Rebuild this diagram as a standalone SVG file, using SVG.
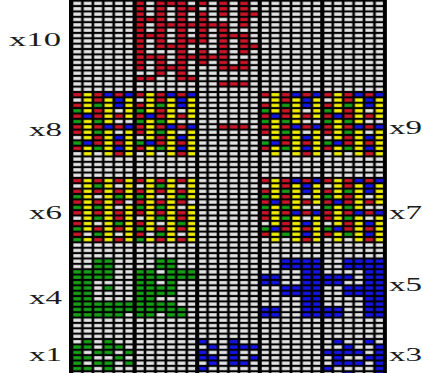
<svg xmlns="http://www.w3.org/2000/svg" width="423" height="373" viewBox="0 0 423 373">
<style>
.lbl{font-family:"Liberation Serif","Times New Roman",serif;font-size:19px;fill:#1a1a1a}
.r{fill:#cc1528}.y{fill:#f2f000}.g{fill:#16a016}.b{fill:#1414e8}
</style>
<defs>
<pattern id="lines" x="72" y="0.7" width="10.43" height="5.37" patternUnits="userSpaceOnUse">
<rect x="0" y="0" width="1.3" height="5.37" fill="#000"/>
<rect x="9.13" y="0" width="1.3" height="5.37" fill="#000"/>
<rect x="0" y="0" width="10.43" height="1.05" fill="#000"/>
<rect x="0" y="4.32" width="10.43" height="1.05" fill="#000"/>
</pattern>
<g id="t8">
<rect class="y" x="1" y="0" width="1" height="4"/><rect class="y" x="1" y="5" width="1" height="4"/><rect class="y" x="1" y="10" width="1" height="2"/>
<rect class="y" x="3" y="1" width="1" height="5"/><rect class="y" x="3" y="7" width="1" height="5"/>
<rect class="y" x="5" y="1" width="1" height="4"/><rect class="y" x="5" y="7" width="1" height="5"/>
<rect class="b" x="1" y="4" width="1" height="1"/><rect class="b" x="1" y="9" width="1" height="1"/><rect class="b" x="3" y="0" width="1" height="1"/><rect class="b" x="3" y="6" width="1" height="1"/><rect class="b" x="5" y="0" width="1" height="1"/><rect class="b" x="5" y="6" width="1" height="1"/><rect class="b" x="4" y="1" width="1" height="2"/><rect class="b" x="4" y="8" width="1" height="1"/><rect class="b" x="4" y="10" width="1" height="1"/>
<rect class="r" x="0" y="0" width="1" height="1"/><rect class="r" x="0" y="2" width="1" height="1"/><rect class="r" x="0" y="4" width="1" height="1"/><rect class="r" x="0" y="6" width="1" height="2"/><rect class="r" x="0" y="10" width="1" height="1"/>
<rect class="r" x="2" y="0" width="1" height="2"/><rect class="r" x="2" y="3" width="1" height="2"/><rect class="r" x="2" y="6" width="1" height="1"/><rect class="r" x="2" y="8" width="1" height="2"/>
<rect class="r" x="4" y="0" width="1" height="1"/><rect class="r" x="4" y="4" width="1" height="1"/><rect class="r" x="4" y="6" width="1" height="1"/><rect class="r" x="4" y="9" width="1" height="1"/><rect class="r" x="4" y="11" width="1" height="1"/>
<rect class="g" x="0" y="3" width="1" height="1"/><rect class="g" x="0" y="5" width="1" height="1"/><rect class="g" x="0" y="9" width="1" height="1"/><rect class="g" x="2" y="2" width="1" height="1"/><rect class="g" x="2" y="5" width="1" height="1"/><rect class="g" x="2" y="7" width="1" height="1"/><rect class="g" x="2" y="10" width="1" height="1"/>
</g>
<g id="t6">
<rect class="y" x="1" y="0" width="1" height="10"/><rect class="y" x="1" y="11" width="1" height="1"/><rect class="y" x="3" y="0" width="1" height="12"/><rect class="y" x="5" y="0" width="1" height="4"/><rect class="y" x="5" y="5" width="1" height="7"/>
<rect class="r" x="0" y="0" width="1" height="1"/><rect class="r" x="0" y="2" width="1" height="1"/><rect class="r" x="0" y="4" width="1" height="1"/><rect class="r" x="0" y="6" width="1" height="1"/><rect class="r" x="0" y="8" width="1" height="1"/><rect class="r" x="0" y="10" width="1" height="1"/>
<rect class="r" x="2" y="0" width="1" height="1"/><rect class="r" x="2" y="2" width="1" height="1"/><rect class="r" x="2" y="4" width="1" height="1"/><rect class="r" x="2" y="6" width="1" height="1"/><rect class="r" x="2" y="9" width="1" height="1"/><rect class="r" x="2" y="11" width="1" height="1"/>
<rect class="r" x="4" y="0" width="1" height="1"/><rect class="r" x="4" y="2" width="1" height="1"/><rect class="r" x="4" y="4" width="1" height="1"/><rect class="r" x="4" y="6" width="1" height="2"/><rect class="r" x="4" y="9" width="1" height="1"/><rect class="r" x="4" y="11" width="1" height="1"/>
<rect class="g" x="0" y="3" width="1" height="1"/><rect class="g" x="0" y="5" width="1" height="1"/><rect class="g" x="0" y="9" width="1" height="1"/><rect class="g" x="0" y="11" width="1" height="1"/><rect class="g" x="2" y="1" width="1" height="1"/><rect class="g" x="2" y="5" width="1" height="1"/><rect class="g" x="2" y="7" width="1" height="1"/><rect class="g" x="2" y="10" width="1" height="1"/><rect class="g" x="4" y="3" width="1" height="1"/><rect class="g" x="4" y="8" width="1" height="1"/>
</g>
</defs>
<rect id="background" x="70" y="0" width="317" height="373" fill="#e4e4e4"/>
<g id="cells" transform="translate(72 0.7) scale(10.43 5.37)">
<g id="x10-band" class="r">
<rect x="6" y="0" width="1" height="13"/><rect x="6" y="14" width="2" height="1"/><rect x="8" y="0" width="1" height="9"/><rect x="8" y="10" width="1" height="4"/><rect x="10" y="0" width="1" height="15"/>
<rect x="9" y="0" width="1" height="1"/><rect x="11" y="1" width="1" height="1"/><rect x="7" y="3" width="1" height="1"/><rect x="9" y="4" width="1" height="1"/><rect x="11" y="4" width="1" height="1"/><rect x="7" y="6" width="1" height="1"/><rect x="11" y="7" width="1" height="1"/><rect x="9" y="8" width="1" height="1"/><rect x="7" y="10" width="1" height="1"/><rect x="11" y="10" width="1" height="1"/><rect x="9" y="12" width="1" height="1"/><rect x="11" y="14" width="1" height="1"/>
<rect x="12" y="0" width="1" height="1"/><rect x="12" y="2" width="1" height="6"/><rect x="12" y="9" width="1" height="3"/>
<rect x="14" y="0" width="1" height="3"/><rect x="14" y="4" width="1" height="9"/>
<rect x="16" y="0" width="1" height="5"/><rect x="16" y="6" width="1" height="4"/><rect x="16" y="11" width="1" height="2"/>
<rect x="17" y="2" width="1" height="1"/><rect x="13" y="4" width="1" height="1"/><rect x="15" y="6" width="1" height="1"/><rect x="17" y="8" width="1" height="1"/><rect x="13" y="10" width="1" height="1"/><rect x="15" y="12" width="1" height="1"/>
<rect x="14" y="15" width="3" height="1"/><rect x="14" y="23" width="3" height="1"/>
</g>
<g id="x8-band">
<use href="#t8" x="0" y="17"/><use href="#t8" x="6" y="17"/><use href="#t8" x="18" y="17"/><use href="#t8" x="24" y="17"/>
</g>
<g id="x6-band">
<use href="#t6" x="0" y="33"/><use href="#t6" x="6" y="33"/><use href="#t8" x="18" y="33"/><use href="#t8" x="24" y="33"/>
</g>
<g id="x4-band" class="g">
<rect x="2" y="48" width="2" height="2"/><rect x="0" y="50" width="4" height="2"/><rect x="0" y="52" width="2" height="4"/><rect x="3" y="53" width="1" height="1"/><rect x="0" y="56" width="6" height="2"/><rect x="0" y="58" width="5" height="1"/>
<rect x="8" y="48" width="2" height="2"/><rect x="6" y="50" width="2" height="1"/><rect x="9" y="50" width="3" height="1"/><rect x="6" y="51" width="6" height="1"/><rect x="6" y="52" width="2" height="1"/><rect x="9" y="52" width="1" height="1"/><rect x="6" y="53" width="4" height="2"/><rect x="6" y="55" width="2" height="1"/><rect x="6" y="56" width="4" height="1"/><rect x="6" y="57" width="5" height="1"/><rect x="6" y="58" width="2" height="1"/><rect x="9" y="58" width="2" height="1"/>
</g>
<g id="x5-band" class="b">
<rect x="20" y="48" width="4" height="2"/><rect x="22" y="50" width="2" height="1"/><rect x="18" y="51" width="2" height="2"/><rect x="22" y="51" width="2" height="2"/><rect x="20" y="53" width="4" height="2"/><rect x="22" y="55" width="2" height="2"/><rect x="18" y="57" width="2" height="2"/><rect x="22" y="57" width="2" height="2"/>
<rect x="26" y="48" width="4" height="2"/><rect x="28" y="50" width="2" height="1"/><rect x="24" y="51" width="3" height="1"/><rect x="24" y="52" width="2" height="1"/><rect x="28" y="51" width="2" height="2"/><rect x="26" y="53" width="4" height="2"/><rect x="28" y="55" width="2" height="2"/><rect x="24" y="57" width="2" height="2"/><rect x="28" y="57" width="2" height="2"/>
</g>
<g id="x1-band">
<g class="g">
<rect x="1" y="63" width="1" height="1"/><rect x="3" y="63" width="1" height="1"/><rect x="0" y="64" width="2" height="1"/><rect x="3" y="64" width="2" height="1"/><rect x="0" y="65" width="1" height="1"/><rect x="2" y="65" width="2" height="1"/><rect x="5" y="65" width="1" height="1"/><rect x="0" y="66" width="2" height="1"/><rect x="4" y="66" width="1" height="1"/><rect x="0" y="67" width="1" height="1"/><rect x="2" y="67" width="2" height="1"/><rect x="5" y="67" width="1" height="1"/><rect x="0" y="68" width="2" height="1"/><rect x="3" y="68" width="1" height="1"/>
</g>
<g class="b">
<rect x="15" y="63" width="1" height="5"/><rect x="12" y="63" width="1" height="1"/><rect x="13" y="64" width="1" height="1"/><rect x="16" y="64" width="2" height="1"/><rect x="12" y="65" width="1" height="1"/><rect x="12" y="66" width="2" height="1"/><rect x="17" y="66" width="1" height="1"/><rect x="13" y="67" width="1" height="1"/><rect x="16" y="67" width="1" height="1"/><rect x="12" y="68" width="1" height="1"/>
<rect x="25" y="63" width="1" height="1"/><rect x="28" y="63" width="1" height="1"/><rect x="26" y="64" width="1" height="1"/><rect x="29" y="64" width="1" height="1"/><rect x="24" y="65" width="4" height="1"/><rect x="29" y="65" width="1" height="1"/><rect x="25" y="66" width="1" height="1"/><rect x="28" y="66" width="2" height="1"/><rect x="25" y="67" width="3" height="1"/><rect x="29" y="67" width="1" height="1"/><rect x="24" y="68" width="1" height="1"/><rect x="29" y="68" width="1" height="1"/><rect x="26" y="69" width="1" height="1"/><rect x="29" y="69" width="1" height="1"/>
</g>
</g>
</g>
<rect id="gridlines" x="72" y="0" width="313" height="373" fill="url(#lines)"/>
<g id="dividers" fill="#000">
<rect x="69" y="0" width="4" height="373"/><rect x="132.6" y="0" width="4" height="373"/><rect x="195.2" y="0" width="4" height="373"/><rect x="257.7" y="0" width="4" height="373"/><rect x="320.3" y="0" width="4" height="373"/><rect x="382.9" y="0" width="4" height="373"/>
</g>
<g id="labels">
<text class="lbl" x="9" y="46" textLength="52" lengthAdjust="spacingAndGlyphs">x10</text>
<text class="lbl" x="29" y="136" textLength="33" lengthAdjust="spacingAndGlyphs">x8</text>
<text class="lbl" x="29" y="219" textLength="33" lengthAdjust="spacingAndGlyphs">x6</text>
<text class="lbl" x="29" y="304" textLength="33" lengthAdjust="spacingAndGlyphs">x4</text>
<text class="lbl" x="29" y="361" textLength="33" lengthAdjust="spacingAndGlyphs">x1</text>
<text class="lbl" x="389" y="134" textLength="33" lengthAdjust="spacingAndGlyphs">x9</text>
<text class="lbl" x="389" y="219" textLength="33" lengthAdjust="spacingAndGlyphs">x7</text>
<text class="lbl" x="389" y="291" textLength="33" lengthAdjust="spacingAndGlyphs">x5</text>
<text class="lbl" x="389" y="361" textLength="33" lengthAdjust="spacingAndGlyphs">x3</text>
</g>
</svg>
